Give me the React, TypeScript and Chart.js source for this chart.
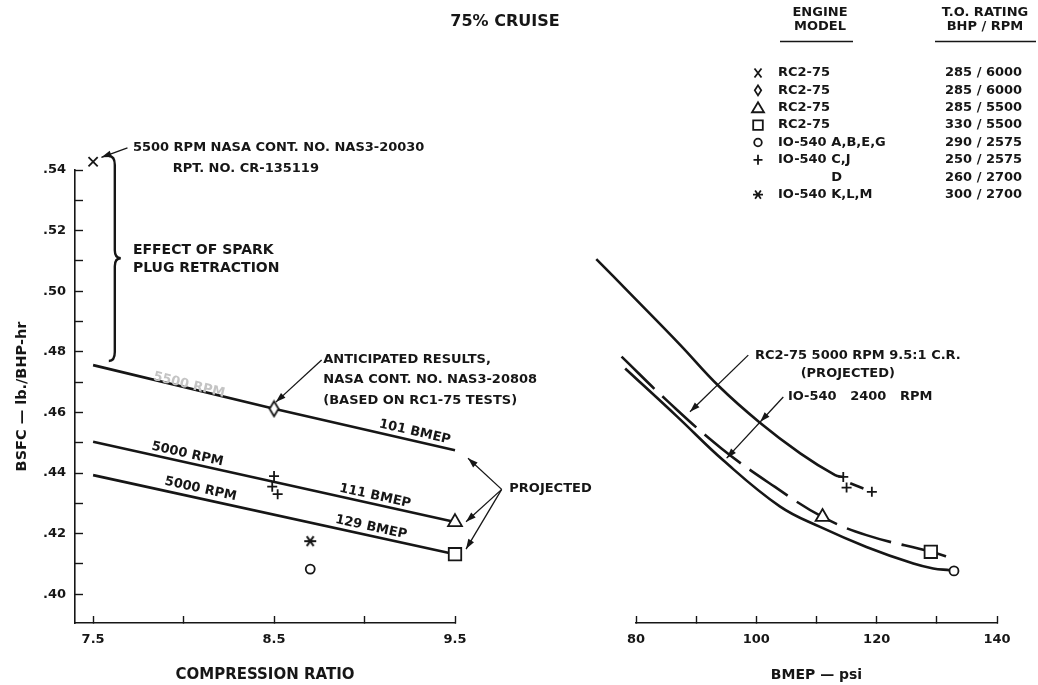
import { useEffect, useRef } from "react";
import { Chart, registerables } from "chart.js";

Chart.register(...registerables);

const FONT_FAMILY = "'DejaVu Sans', 'Liberation Sans', Arial, sans-serif";
const INK = "#161616";
const PAPER = "#ffffff";

// ---- BSFC axis, shared by both panels (lb/BHP-hr) ----
const BSFC_MIN = 0.3905;
const BSFC_MAX = 0.54;
const BSFC_TICK_MARKS = [0.4, 0.41, 0.42, 0.43, 0.44, 0.45, 0.46, 0.47, 0.48, 0.49, 0.5, 0.51, 0.52, 0.53, 0.54];
const BSFC_TICK_VALUES = [0.4, 0.42, 0.44, 0.46, 0.48, 0.5, 0.52, 0.54];
const BSFC_TICK_TEXT = [".40", ".42", ".44", ".46", ".48", ".50", ".52", ".54"];

// ---- compression ratio panel ----
const CR_MIN = 7.4;
const CR_MAX = 9.5;
const CR_TICK_MARKS = [7.5, 8.0, 8.5, 9.0, 9.5];
const CR_TICK_VALUES = [7.5, 8.5, 9.5];
const CR_TICK_TEXT = ["7.5", "8.5", "9.5"];

// 5500 RPM, 101 BMEP
const LINE_101_CR = [7.5, 8.5, 9.5];
const LINE_101_BSFC = [0.4756, 0.4612, 0.4475];
// 5000 RPM, 111 BMEP
const LINE_111_CR = [7.5, 9.5];
const LINE_111_BSFC = [0.4503, 0.4238];
// 5000 RPM, 129 BMEP
const LINE_129_CR = [7.5, 9.5];
const LINE_129_BSFC = [0.4393, 0.4132];

// test points against compression ratio
const XMARK_CR = [7.5];
const XMARK_BSFC = [0.5427];
const DIAMOND_CR = [8.5];
const DIAMOND_BSFC = [0.4612];
const TRIANGLE_CR = [9.5];
const TRIANGLE_CR_BSFC = [0.4238];
const SQUARE_CR = [9.5];
const SQUARE_CR_BSFC = [0.4132];
const CIRCLE_CR = [8.7];
const CIRCLE_CR_BSFC = [0.4083];
const PLUS_CR = [8.5, 8.49, 8.52];
const PLUS_CR_BSFC = [0.439, 0.4355, 0.433];
const STAR_CR = [8.7];
const STAR_CR_BSFC = [0.4175];

// ---- BMEP panel ----
const BMEP_MIN = 80;
const BMEP_MAX = 140;
const BMEP_TICK_MARKS = [80, 90, 100, 110, 120, 130, 140];
const BMEP_TICK_VALUES = [80, 100, 120, 140];
const BMEP_TICK_TEXT = ["80", "100", "120", "140"];

// IO-540 C,J at 2400 RPM
const IO540_CJ_BMEP = [73.4, 79.0, 87.3, 93.7, 100.6, 107.3, 113.1, 114.45];
const IO540_CJ_BSFC = [0.5106, 0.4993, 0.4824, 0.4688, 0.4566, 0.4465, 0.4393, 0.4387];
const IO540_CJ_TAIL_BMEP = [115.6, 117.8];
const IO540_CJ_TAIL_BSFC = [0.4366, 0.4349];
// RC2-75 5000 RPM 9.5:1 C.R. (projected)
const RC2_PROJ_BMEP = [77.6, 85.2, 94.2, 103.1, 111, 118.3, 129, 132.7];
const RC2_PROJ_BSFC = [0.4784, 0.4638, 0.4481, 0.4354, 0.4255, 0.4195, 0.414, 0.4118];
// IO-540 A,B,E,G at 2400 RPM
const IO540_ABEG_BMEP = [78.2, 86.8, 94.5, 103.9, 110.6, 118.3, 126.1, 129.4, 132.2, 132.85];
const IO540_ABEG_BSFC = [0.4745, 0.4587, 0.4442, 0.429, 0.4222, 0.4156, 0.4101, 0.4085, 0.4079, 0.4077];

const TRIANGLE_BMEP = [111];
const TRIANGLE_BMEP_BSFC = [0.4255];
const SQUARE_BMEP = [129];
const SQUARE_BMEP_BSFC = [0.414];
const CIRCLE_BMEP = [132.85];
const CIRCLE_BMEP_BSFC = [0.4077];
const PLUS_BMEP = [114.45, 115.0, 119.2];
const PLUS_BMEP_BSFC = [0.4387, 0.4352, 0.4338];

// ---- engine key ----
const KEY_SYMBOLS = ["x", "diamond", "triangle", "square", "circle", "plus", "", "star"];
const KEY_MODELS = ["RC2-75", "RC2-75", "RC2-75", "RC2-75", "IO-540 A,B,E,G", "IO-540 C,J", "D", "IO-540 K,L,M"];
const KEY_RATINGS = ["285 / 6000", "285 / 6000", "285 / 5500", "330 / 5500", "290 / 2575", "250 / 2575", "260 / 2700", "300 / 2700"];

type Pt = [number, number];

const pts = (xs: number[], ys: number[]) => xs.map((x, i) => ({ x, y: ys[i] }));

const tickText = (values: number[], texts: string[]) => (v: number | string) => {
  const n = Number(v);
  const i = values.findIndex((t) => Math.abs(t - n) < 1e-6);
  return i >= 0 ? texts[i] : "";
};

function makeDiamond(w: number, h: number): HTMLCanvasElement {
  const c = document.createElement("canvas");
  c.width = w + 4;
  c.height = h + 4;
  const g = c.getContext("2d")!;
  g.fillStyle = PAPER;
  g.strokeStyle = INK;
  g.lineWidth = 1.8;
  g.beginPath();
  g.moveTo(c.width / 2, 2);
  g.lineTo(c.width - 2, c.height / 2);
  g.lineTo(c.width / 2, c.height - 2);
  g.lineTo(2, c.height / 2);
  g.closePath();
  g.fill();
  g.stroke();
  return c;
}

function makeAsterisk(r: number): HTMLCanvasElement {
  const c = document.createElement("canvas");
  c.width = 2 * r + 4;
  c.height = 2 * r + 4;
  const g = c.getContext("2d")!;
  g.strokeStyle = INK;
  g.lineWidth = 1.9;
  const cx = c.width / 2;
  const cy = c.height / 2;
  g.beginPath();
  [0, 55, -55].forEach((deg) => {
    const a = (deg * Math.PI) / 180;
    g.moveTo(cx - Math.cos(a) * r, cy - Math.sin(a) * r);
    g.lineTo(cx + Math.cos(a) * r, cy + Math.sin(a) * r);
  });
  g.stroke();
  return c;
}

function curve(xs: number[], ys: number[], extra: Record<string, unknown> = {}) {
  return {
    data: pts(xs, ys),
    showLine: true,
    borderColor: INK,
    borderWidth: 2.6,
    borderCapStyle: "butt",
    pointRadius: 0,
    tension: 0.4,
    clip: false,
    order: 1,
    ...extra,
  };
}

function marks(xs: number[], ys: number[], style: unknown, radius: number, extra: Record<string, unknown> = {}) {
  return {
    data: pts(xs, ys),
    showLine: false,
    pointStyle: style,
    pointRadius: radius,
    pointBorderColor: INK,
    pointBackgroundColor: PAPER,
    pointBorderWidth: 1.8,
    clip: false,
    order: 0,
    ...extra,
  };
}

const font = (size: number) => ({ family: FONT_FAMILY, size, weight: "bold" as const });

function bsfcAxis(display: boolean) {
  return {
    type: "linear",
    display,
    min: BSFC_MIN,
    max: BSFC_MAX,
    afterBuildTicks: (s: any) => {
      s.ticks = BSFC_TICK_MARKS.map((value) => ({ value }));
    },
    ticks: {
      autoSkip: false,
      padding: 17,
      color: INK,
      font: font(13),
      callback: tickText(BSFC_TICK_VALUES, BSFC_TICK_TEXT),
    },
    grid: { drawOnChartArea: false, drawTicks: true, tickLength: -8, tickWidth: 1.4, tickColor: INK },
    border: { display: true, color: INK, width: 1.6 },
    title: {
      display: true,
      text: "BSFC — lb./BHP-hr",
      color: INK,
      font: font(14.5),
      padding: { top: 6, bottom: 0 },
    },
    afterFit: (s: any) => {
      s.width = display ? 67 : 0;
    },
  };
}

function horizontalAxis(
  min: number,
  max: number,
  marksAt: number[],
  values: number[],
  texts: string[],
  title: string,
  titleSize: number
) {
  return {
    type: "linear",
    min,
    max,
    afterBuildTicks: (s: any) => {
      s.ticks = marksAt.map((value) => ({ value }));
    },
    ticks: {
      autoSkip: false,
      maxRotation: 0,
      padding: 16,
      color: INK,
      font: font(13),
      callback: tickText(values, texts),
    },
    grid: { drawOnChartArea: false, drawTicks: true, tickLength: -7, tickWidth: 1.4, tickColor: INK },
    border: { display: true, color: INK, width: 1.6 },
    title: { display: true, text: title, color: INK, font: font(titleSize), padding: { top: 0, bottom: 1 } },
    afterFit: (s: any) => {
      s.height = 62;
    },
  };
}

// ---- canvas drawing helpers for notes ----
function toPx(chart: Chart) {
  return (x: number, y: number): Pt => [chart.scales.x.getPixelForValue(x), chart.scales.y.getPixelForValue(y)];
}

function text(
  ctx: CanvasRenderingContext2D,
  s: string,
  at: Pt,
  opts: { align?: CanvasTextAlign; size?: number; angle?: number; color?: string } = {}
) {
  ctx.save();
  ctx.translate(at[0], at[1]);
  if (opts.angle) ctx.rotate(opts.angle);
  ctx.font = `bold ${opts.size ?? 13}px ${FONT_FAMILY}`;
  ctx.fillStyle = opts.color ?? INK;
  ctx.textAlign = opts.align ?? "left";
  ctx.textBaseline = "middle";
  ctx.fillText(s, 0, 0);
  ctx.restore();
}

function arrowHead(ctx: CanvasRenderingContext2D, from: Pt, tip: Pt, len = 10, half = 3.3) {
  const a = Math.atan2(tip[1] - from[1], tip[0] - from[0]);
  const bx = tip[0] - Math.cos(a) * len;
  const by = tip[1] - Math.sin(a) * len;
  ctx.beginPath();
  ctx.moveTo(tip[0], tip[1]);
  ctx.lineTo(bx - Math.sin(a) * half, by + Math.cos(a) * half);
  ctx.lineTo(bx + Math.sin(a) * half, by - Math.cos(a) * half);
  ctx.closePath();
  ctx.fill();
}

function arrow(ctx: CanvasRenderingContext2D, from: Pt, tip: Pt) {
  ctx.beginPath();
  ctx.moveTo(from[0], from[1]);
  ctx.lineTo(tip[0], tip[1]);
  ctx.stroke();
  arrowHead(ctx, from, tip);
}

function slope(a: Pt, b: Pt) {
  return Math.atan2(b[1] - a[1], b[0] - a[0]);
}

function brace(ctx: CanvasRenderingContext2D, x: number, yTop: number, yMid: number, yBot: number) {
  const w = 6;
  ctx.beginPath();
  ctx.moveTo(x - w, yTop - 1);
  ctx.quadraticCurveTo(x, yTop - 1, x, yTop + 8);
  ctx.lineTo(x, yMid - 8);
  ctx.quadraticCurveTo(x, yMid, x + w, yMid);
  ctx.quadraticCurveTo(x, yMid, x, yMid + 8);
  ctx.lineTo(x, yBot - 8);
  ctx.quadraticCurveTo(x, yBot + 1, x - w, yBot + 1);
  ctx.stroke();
}

function keySymbol(ctx: CanvasRenderingContext2D, kind: string, x: number, y: number) {
  ctx.save();
  ctx.strokeStyle = INK;
  ctx.fillStyle = PAPER;
  ctx.lineWidth = 1.8;
  ctx.beginPath();
  if (kind === "x") {
    ctx.moveTo(x - 3.5, y - 4.5);
    ctx.lineTo(x + 3.5, y + 4.5);
    ctx.moveTo(x + 3.5, y - 4.5);
    ctx.lineTo(x - 3.5, y + 4.5);
  } else if (kind === "diamond") {
    ctx.moveTo(x, y - 5);
    ctx.lineTo(x + 3.2, y);
    ctx.lineTo(x, y + 5);
    ctx.lineTo(x - 3.2, y);
    ctx.closePath();
  } else if (kind === "triangle") {
    ctx.moveTo(x, y - 5.5);
    ctx.lineTo(x + 6, y + 4.5);
    ctx.lineTo(x - 6, y + 4.5);
    ctx.closePath();
  } else if (kind === "square") {
    ctx.rect(x - 4.8, y - 4.8, 9.6, 9.6);
  } else if (kind === "circle") {
    ctx.arc(x, y, 3.8, 0, Math.PI * 2);
  } else if (kind === "plus") {
    ctx.moveTo(x - 4.5, y);
    ctx.lineTo(x + 4.5, y);
    ctx.moveTo(x, y - 5);
    ctx.lineTo(x, y + 5);
  } else if (kind === "star") {
    [0, 55, -55].forEach((deg) => {
      const a = (deg * Math.PI) / 180;
      ctx.moveTo(x - Math.cos(a) * 5, y - Math.sin(a) * 5);
      ctx.lineTo(x + Math.cos(a) * 5, y + Math.sin(a) * 5);
    });
  }
  if (kind === "diamond" || kind === "triangle" || kind === "square" || kind === "circle") ctx.fill();
  ctx.stroke();
  ctx.restore();
}

// ---- page layout ----
const PAGE_W = 1038;
const PAGE_H = 685;
const LEFT_CANVAS_X = 0;
const LEFT_CANVAS_W = 620;
const RIGHT_CANVAS_X = 570;
const RIGHT_CANVAS_W = 468;

const leftNotes = {
  id: "leftNotes",
  afterDatasetsDraw(chart: Chart) {
    const ctx = chart.ctx;
    const P = toPx(chart);
    ctx.save();
    ctx.strokeStyle = INK;
    ctx.fillStyle = INK;
    ctx.lineWidth = 1.3;

    text(ctx, "75% CRUISE", [505 - LEFT_CANVAS_X, 22], { align: "center", size: 16 });

    // spark plug retraction note
    text(ctx, "5500 RPM NASA CONT. NO. NAS3-20030", P(7.72, 0.5475));
    text(ctx, "RPT. NO. CR-135119", P(7.94, 0.5406));
    arrow(ctx, P(7.69, 0.5473), P(7.546, 0.5442));
    ctx.lineWidth = 2.4;
    const bt = P(7.62, 0.5443);
    brace(ctx, bt[0], bt[1], P(7.62, 0.5109)[1], P(7.62, 0.4773)[1]);
    ctx.lineWidth = 1.3;
    text(ctx, "EFFECT OF SPARK", P(7.72, 0.5136), { size: 14 });
    text(ctx, "PLUG RETRACTION", P(7.72, 0.5075), { size: 14 });

    // anticipated results note
    text(ctx, "ANTICIPATED RESULTS,", P(8.772, 0.4775));
    text(ctx, "NASA CONT. NO. NAS3-20808", P(8.772, 0.4707));
    text(ctx, "(BASED ON RC1-75 TESTS)", P(8.772, 0.4638));
    arrow(ctx, P(8.763, 0.4773), P(8.51, 0.4634));

    // labels along the lines
    const a101a = slope(P(LINE_101_CR[0], LINE_101_BSFC[0]), P(LINE_101_CR[1], LINE_101_BSFC[1]));
    const a101b = slope(P(LINE_101_CR[1], LINE_101_BSFC[1]), P(LINE_101_CR[2], LINE_101_BSFC[2]));
    const a111 = slope(P(LINE_111_CR[0], LINE_111_BSFC[0]), P(LINE_111_CR[1], LINE_111_BSFC[1]));
    const a129 = slope(P(LINE_129_CR[0], LINE_129_BSFC[0]), P(LINE_129_CR[1], LINE_129_BSFC[1]));
    text(ctx, "5500 RPM", P(8.03, 0.469), { align: "center", angle: a101a, color: "#c4c4c4" });
    text(ctx, "101 BMEP", P(9.278, 0.4535), { align: "center", angle: a101b });
    text(ctx, "5000 RPM", P(8.021, 0.4462), { align: "center", angle: a111 });
    text(ctx, "111 BMEP", P(9.058, 0.4324), { align: "center", angle: a111 });
    text(ctx, "5000 RPM", P(8.094, 0.4347), { align: "center", angle: a129 });
    text(ctx, "129 BMEP", P(9.036, 0.4221), { align: "center", angle: a129 });

    // projected end points
    text(ctx, "PROJECTED", P(9.8, 0.4347));
    const apex = P(9.758, 0.4346);
    arrow(ctx, apex, P(9.572, 0.4449));
    arrow(ctx, apex, P(9.561, 0.4239));
    arrow(ctx, apex, P(9.561, 0.4149));
    ctx.restore();
  },
};

const rightNotes = {
  id: "rightNotes",
  afterDatasetsDraw(chart: Chart) {
    const ctx = chart.ctx;
    const P = toPx(chart);
    ctx.save();
    ctx.strokeStyle = INK;
    ctx.fillStyle = INK;
    ctx.lineWidth = 1.3;

    text(ctx, "RC2-75 5000 RPM 9.5:1 C.R.", P(99.78, 0.4789));
    text(ctx, "(PROJECTED)", P(115.2, 0.4729), { align: "center" });
    text(ctx, "IO-540   2400   RPM", P(105.26, 0.4651));
    arrow(ctx, P(98.66, 0.4789), P(88.97, 0.4602));
    const ioFrom = P(104.48, 0.4651);
    arrow(ctx, ioFrom, P(95.07, 0.4449));
    arrowHead(ctx, ioFrom, P(100.65, 0.4569));

    // engine key
    const ox = RIGHT_CANVAS_X;
    const modelX = 778 - ox;
    const ratingX = 945 - ox;
    text(ctx, "ENGINE", [820 - ox, 12.5], { align: "center" });
    text(ctx, "MODEL", [820 - ox, 26.5], { align: "center" });
    text(ctx, "T.O. RATING", [985 - ox, 12.5], { align: "center" });
    text(ctx, "BHP / RPM", [985 - ox, 26.5], { align: "center" });
    ctx.lineWidth = 1.5;
    ctx.beginPath();
    ctx.moveTo(780 - ox, 41.5);
    ctx.lineTo(853 - ox, 41.5);
    ctx.moveTo(935 - ox, 41.5);
    ctx.lineTo(1036 - ox, 41.5);
    ctx.stroke();
    ctx.font = `bold 13px ${FONT_FAMILY}`;
    const indent = ctx.measureText("IO-540 ").width;
    KEY_MODELS.forEach((model, i) => {
      const y = 73 + i * 17.37;
      if (KEY_SYMBOLS[i]) keySymbol(ctx, KEY_SYMBOLS[i], 758 - ox, y);
      text(ctx, model, [KEY_SYMBOLS[i] ? modelX : modelX + indent, y]);
      text(ctx, KEY_RATINGS[i], [ratingX, y]);
    });
    ctx.restore();
  },
};

function baseOptions() {
  return {
    responsive: false,
    animation: false,
    events: [],
    plugins: { legend: { display: false }, tooltip: { enabled: false }, title: { display: false } },
  };
}

export default function App() {
  const leftRef = useRef<HTMLCanvasElement>(null);
  const rightRef = useRef<HTMLCanvasElement>(null);

  useEffect(() => {
    Chart.defaults.font.family = FONT_FAMILY;
    const diamond = makeDiamond(9, 15);
    const asterisk = makeAsterisk(6);

    const left = new Chart(leftRef.current!, {
      type: "scatter",
      data: {
        datasets: [
          marks(XMARK_CR, XMARK_BSFC, "crossRot", 6.5),
          marks(DIAMOND_CR, DIAMOND_BSFC, diamond, 7),
          marks(TRIANGLE_CR, TRIANGLE_CR_BSFC, "triangle", 8),
          marks(SQUARE_CR, SQUARE_CR_BSFC, "rect", 8.8),
          marks(CIRCLE_CR, CIRCLE_CR_BSFC, "circle", 4.5),
          marks(PLUS_CR, PLUS_CR_BSFC, "cross", 5),
          marks(STAR_CR, STAR_CR_BSFC, asterisk, 6),
          curve(LINE_101_CR, LINE_101_BSFC, { tension: 0 }),
          curve(LINE_111_CR, LINE_111_BSFC, { tension: 0 }),
          curve(LINE_129_CR, LINE_129_BSFC, { tension: 0 }),
        ],
      } as any,
      options: {
        ...baseOptions(),
        layout: { padding: { top: 170, left: 8, right: LEFT_CANVAS_W - 455, bottom: 0 } },
        scales: {
          x: horizontalAxis(CR_MIN, CR_MAX, CR_TICK_MARKS, CR_TICK_VALUES, CR_TICK_TEXT, "COMPRESSION RATIO", 15),
          y: bsfcAxis(true),
        },
      } as any,
      plugins: [leftNotes as any],
    });

    // the IO-540 C,J curve starts two readings below 80 psi; it is fed from the
    // high-BMEP end so Chart.js keeps the whole curve rather than trimming at the axis minimum
    const cjBmep = [...IO540_CJ_BMEP].reverse();
    const cjBsfc = [...IO540_CJ_BSFC].reverse();

    const right = new Chart(rightRef.current!, {
      type: "scatter",
      data: {
        datasets: [
          marks(TRIANGLE_BMEP, TRIANGLE_BMEP_BSFC, "triangle", 8),
          marks(SQUARE_BMEP, SQUARE_BMEP_BSFC, "rect", 8.8),
          marks(CIRCLE_BMEP, CIRCLE_BMEP_BSFC, "circle", 4.5),
          marks(PLUS_BMEP, PLUS_BMEP_BSFC, "cross", 5),
          curve(cjBmep, cjBsfc),
          curve(IO540_CJ_TAIL_BMEP, IO540_CJ_TAIL_BSFC, { tension: 0 }),
          curve(RC2_PROJ_BMEP, RC2_PROJ_BSFC, { borderDash: [46, 11] }),
          curve(IO540_ABEG_BMEP, IO540_ABEG_BSFC),
        ],
      } as any,
      options: {
        ...baseOptions(),
        layout: { padding: { top: 170, left: 636 - RIGHT_CANVAS_X, right: RIGHT_CANVAS_X + RIGHT_CANVAS_W - 997, bottom: 0 } },
        scales: {
          x: horizontalAxis(BMEP_MIN, BMEP_MAX, BMEP_TICK_MARKS, BMEP_TICK_VALUES, BMEP_TICK_TEXT, "BMEP — psi", 14),
          y: bsfcAxis(false),
        },
      } as any,
      plugins: [rightNotes as any],
    });

    return () => {
      left.destroy();
      right.destroy();
    };
  }, []);

  return (
    <div style={{ position: "absolute", left: 0, top: 0, width: PAGE_W, height: PAGE_H, background: PAPER, overflow: "hidden" }}>
      <canvas ref={leftRef} width={LEFT_CANVAS_W} height={PAGE_H} style={{ position: "absolute", left: LEFT_CANVAS_X, top: 0 }} />
      <canvas ref={rightRef} width={RIGHT_CANVAS_W} height={PAGE_H} style={{ position: "absolute", left: RIGHT_CANVAS_X, top: 0 }} />
    </div>
  );
}
